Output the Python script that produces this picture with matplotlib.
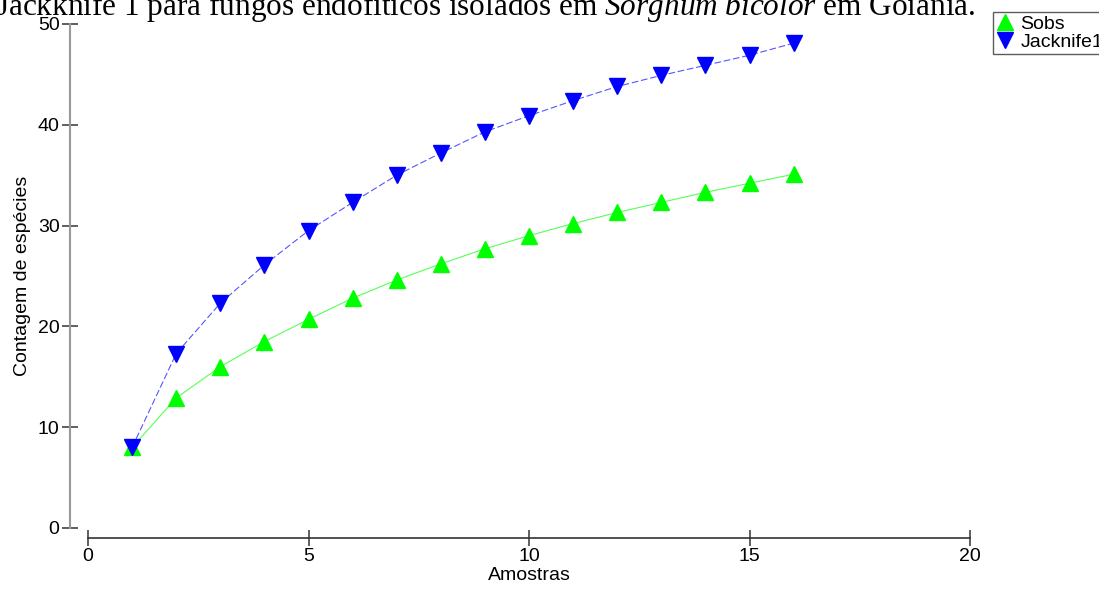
import matplotlib
matplotlib.use('Agg')
import matplotlib.pyplot as plt

plt.rcParams['font.family'] = ['Liberation Sans', 'DejaVu Sans']
plt.rcParams['mathtext.fontset'] = 'custom'
plt.rcParams['mathtext.it'] = 'Liberation Serif:italic'
plt.rcParams['mathtext.rm'] = 'Liberation Serif'

# data
amostras = [1, 2, 3, 4, 5, 6, 7, 8, 9, 10, 11, 12, 13, 14, 15, 16]
sobs = [8.0, 12.9, 16.0, 18.5, 20.7, 22.8, 24.6, 26.2, 27.7, 29.0,
        30.2, 31.3, 32.3, 33.3, 34.2, 35.1]
jacknife1 = [8.0, 17.3, 22.3, 26.1, 29.5, 32.3, 35.0, 37.2, 39.3, 40.9,
             42.4, 43.8, 44.9, 45.9, 46.9, 48.1]
x_ticks = [0, 5, 10, 15, 20]
y_ticks = [0, 10, 20, 30, 40, 50]

W, H = 1099, 593
fig = plt.figure(figsize=(W / 100, H / 100), dpi=100)
ax = fig.add_axes([88 / W, 65 / H, (970 - 88) / W, (528 - 24) / H])

ax.plot(amostras, sobs, color='#55ff55', lw=0.8, marker='^', ms=11.5,
        mec='#00ff00', mfc='#00ff00', label='Sobs', zorder=3)
ax.plot(amostras, jacknife1, color='#5555ff', lw=0.8, ls=(0, (6, 2.5)),
        marker='v', ms=11.5, mec='#0000ff', mfc='#0000ff',
        label='Jacknife1', zorder=4)

ax.set_xlim(0, 20)
ax.set_ylim(0, 50)
ax.set_xticks(x_ticks)
ax.set_yticks(y_ticks)

ax.spines['top'].set_visible(False)
ax.spines['right'].set_visible(False)
ax.spines['left'].set_position(('outward', 13))
ax.spines['bottom'].set_position(('outward', 7.2))
ax.spines['left'].set_color('#999999')
ax.spines['left'].set_linewidth(1.5)
ax.spines['bottom'].set_color('#333333')
ax.spines['bottom'].set_linewidth(1.2)
ax.tick_params(axis='both', direction='inout', length=11, width=1.2,
               color='#444444', labelsize=14, pad=2)

ax.set_xlabel('Amostras', fontsize=14, labelpad=1)
ax.set_ylabel('Contagem de espécies', fontsize=14, labelpad=5)

leg = ax.legend(loc='upper left', bbox_to_anchor=(993 / W, 1 - 12 / H),
                bbox_transform=fig.transFigure, frameon=True, fancybox=False,
                fontsize=14, handlelength=0.9, handletextpad=0.35,
                borderpad=0.15, labelspacing=0.05, borderaxespad=0)
leg.get_frame().set_edgecolor('#333333')
leg.get_frame().set_linewidth(1.0)
for h in leg.get_lines():
    h.set_linestyle('none')

fig.text(-4 / W, 1 - 15 / H,
         r'Jackknife 1 para fungos endofíticos isolados em $\it{Sorghum\ bicolor}$ em Goiânia.',
         family='Liberation Serif', fontsize=22.5, ha='left', va='baseline')

fig.savefig('out.png', dpi=100)
